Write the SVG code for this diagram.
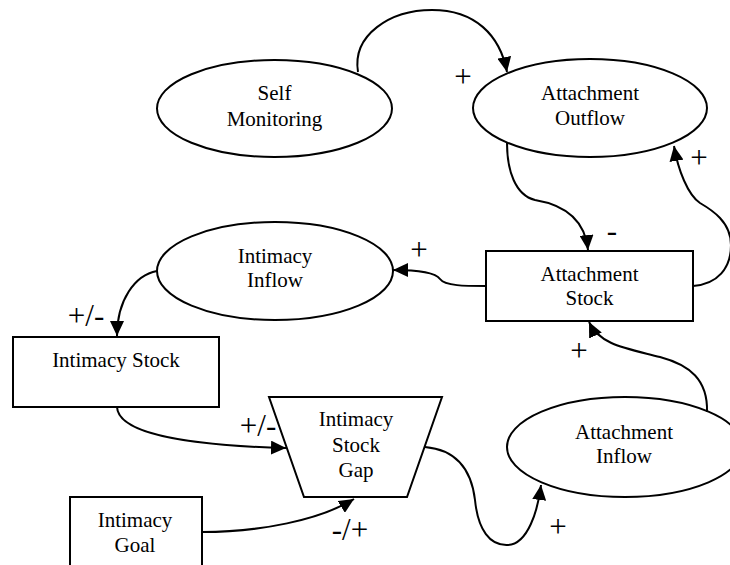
<svg xmlns="http://www.w3.org/2000/svg" width="730" height="565" viewBox="0 0 730 565">
<style>
.shape{fill:#fff;stroke:#000;stroke-width:2}
text{font-family:'Liberation Serif','Times New Roman','DejaVu Serif',serif;text-anchor:middle;fill:#000}
.t{font-size:21px}
.lbl{font-size:31px}
.c{fill:none;stroke:#000;stroke-width:2;marker-end:url(#ah)}
</style>
<defs>
<marker id="ah" viewBox="0 0 15 14" refX="15" refY="7" markerWidth="15" markerHeight="14" orient="auto" markerUnits="userSpaceOnUse">
<path d="M0,0 L15,7 L0,14 z" fill="#000"/>
</marker>
</defs>
<rect width="730" height="565" fill="#fff"/>
<g id="self-monitoring">
<ellipse class="shape" cx="274.5" cy="108.5" rx="117.5" ry="48.5"/>
<text class="t" x="274.5" y="100">Self</text>
<text class="t" x="274.5" y="126">Monitoring</text>
</g>
<g id="attachment-outflow">
<ellipse class="shape" cx="590" cy="108" rx="117" ry="49"/>
<text class="t" x="590" y="100">Attachment</text>
<text class="t" x="590" y="125">Outflow</text>
</g>
<g id="attachment-stock">
<rect class="shape" x="486" y="251" width="207" height="70"/>
<text class="t" x="589.5" y="281">Attachment</text>
<text class="t" x="589.5" y="305">Stock</text>
</g>
<g id="intimacy-inflow">
<ellipse class="shape" cx="275" cy="271" rx="118" ry="49"/>
<text class="t" x="275" y="263">Intimacy</text>
<text class="t" x="275" y="287">Inflow</text>
</g>
<g id="intimacy-stock">
<rect class="shape" x="13" y="337" width="206" height="70"/>
<text class="t" x="116" y="367">Intimacy Stock</text>
</g>
<g id="intimacy-stock-gap">
<polygon class="shape" points="269,397 442,397 407,497 304,497"/>
<text class="t" x="356" y="426">Intimacy</text>
<text class="t" x="356" y="452">Stock</text>
<text class="t" x="356" y="477">Gap</text>
</g>
<g id="attachment-inflow">
<ellipse class="shape" cx="625" cy="447" rx="118" ry="50"/>
<text class="t" x="624" y="439">Attachment</text>
<text class="t" x="624" y="463">Inflow</text>
</g>
<g id="intimacy-goal">
<rect class="shape" x="70" y="497" width="132" height="70"/>
<text class="t" x="135" y="527">Intimacy</text>
<text class="t" x="135" y="552">Goal</text>
</g>
<g id="connectors">
<path class="c" d="M358,72 C352,35 390,10 432,10 C475,10 500,35 507,72"/>
<path class="c" d="M507,143 C507,170 515,195 535,200 C565,205 585,220 588,250"/>
<path class="c" d="M693,286 C718,284 731,268 731,245 C731,222 712,210 700,203 C688,195 678,170 674,146"/>
<path class="c" d="M486,286 C465,286 445,286 440,279 C435,272 415,270 393,270"/>
<path class="c" d="M157,271 C135,275 117,300 117,336"/>
<path class="c" d="M117,407 C118,430 170,445 286,448"/>
<path class="c" d="M425,447 C460,450 472,475 475,500 C478,530 490,546 508,545 C528,544 538,510 541,485"/>
<path class="c" d="M707,412 C708,380 690,365 660,357 C625,348 600,345 589,322"/>
<path class="c" d="M202,532 C260,532 320,520 354,499"/>
</g>
<g id="labels">
<text class="lbl" x="463" y="87">+</text>
<text class="lbl" x="612" y="241">-</text>
<text class="lbl" x="699" y="168">+</text>
<text class="lbl" x="419" y="260">+</text>
<text class="lbl" x="86" y="326">+/-</text>
<text class="lbl" x="258" y="436">+/-</text>
<text class="lbl" x="579" y="361">+</text>
<text class="lbl" x="558" y="537">+</text>
<text class="lbl" x="350" y="540">-/+</text>
</g>
</svg>
